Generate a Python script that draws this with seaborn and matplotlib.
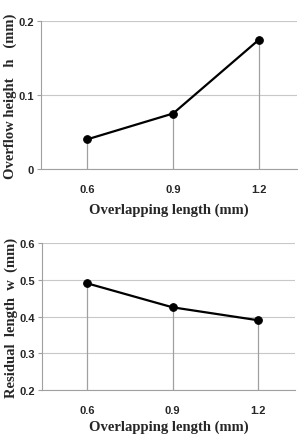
import numpy as np
import pandas as pd
import seaborn as sns
import matplotlib.pyplot as plt

# data
overlap = ['0.6', '0.9', '1.2']
overflowHeight = [0.040, 0.075, 0.175]
residualLength = [0.490, 0.425, 0.390]

sns.set_style('white')
plt.rcParams['font.family'] = ['Liberation Sans', 'DejaVu Sans']

fig = plt.figure(figsize=(2.99, 4.39), dpi=100)
ax1 = fig.add_axes([41/299, 1-170/439, 256/299, 148/439])
ax2 = fig.add_axes([42/299, 1-391/439, 253/299, 147/439])

serif = ['Liberation Serif', 'DejaVu Serif']


def drawPanel(ax, values, ylim, yticks, ylabel, labelpad):
    pos = np.arange(len(overlap))
    df = pd.DataFrame({'x': pos, 'y': values})
    ax.set_ylim(*ylim)
    ax.set_yticks(yticks)
    ax.set_yticklabels([('%g' % t) for t in yticks], fontsize=8, fontweight='bold')
    ax.yaxis.grid(True, color='#c8c8c8', lw=0.8)
    ax.set_axisbelow(True)
    # drop lines from each point down to the axis
    ax.vlines(df['x'], ylim[0], df['y'], color='#a0a0a0', lw=0.9, zorder=2)
    sns.lineplot(data=df, x='x', y='y', ax=ax, color='black', lw=1.6,
                 marker='o', markersize=5.5, markeredgecolor='black', zorder=3)
    ax.set_xlim(-0.535, 2.44)
    ax.set_xticks(pos)
    ax.set_xticklabels(overlap, fontsize=8, fontweight='bold')
    ax.tick_params(axis='x', length=0, pad=11)
    ax.tick_params(axis='y', length=3, color='#a0a0a0', pad=2, left=True)
    for s in ['top', 'right']:
        ax.spines[s].set_visible(False)
    ax.spines['left'].set_color('#a0a0a0')
    ax.spines['bottom'].set_color('#a0a0a0')
    ax.spines['left'].set_linewidth(0.8)
    ax.spines['bottom'].set_linewidth(0.8)
    ax.set_xlabel('Overlapping length (mm)', family=serif, fontweight='bold',
                  fontsize=10.5, labelpad=labelpad)
    ax.set_ylabel(ylabel, family=serif, fontweight='bold', fontsize=10.5, labelpad=1)


drawPanel(ax1, overflowHeight, (0, 0.2), [0, 0.1, 0.2], 'Overflow height   h   (mm)', 6)
drawPanel(ax2, residualLength, (0.2, 0.6), [0.2, 0.3, 0.4, 0.5, 0.6], 'Residual  length  w  (mm)', 3)

fig.savefig('out.png', dpi=100)
